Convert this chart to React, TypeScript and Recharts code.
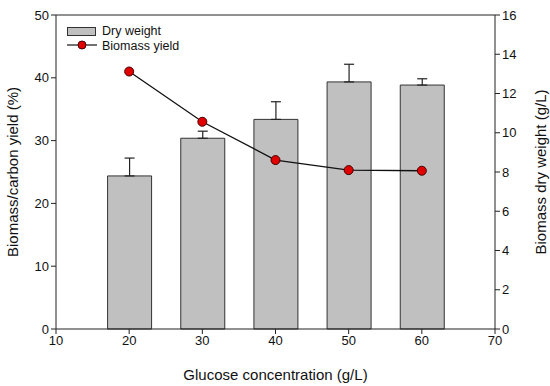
import React from 'react';
import {
  ComposedChart,
  Bar,
  Line,
  XAxis,
  YAxis,
  ErrorBar,
  ReferenceLine,
} from 'recharts';

const glucose = [20, 30, 40, 50, 60];
const dryWeight = [7.8, 9.72, 10.68, 12.59, 12.43];
const dryWeightErr = [0.91, 0.36, 0.9, 0.9, 0.32];
const biomassYield = [41.0, 33.0, 26.9, 25.3, 25.2];

const xTicks = [10, 20, 30, 40, 50, 60, 70];
const leftTicks = [0, 10, 20, 30, 40, 50];
const rightTicks = [0, 2, 4, 6, 8, 10, 12, 14, 16];

const data = glucose.map((g, i) => ({
  glucose: g,
  dry: dryWeight[i],
  dryErr: [0, dryWeightErr[i]],
  yield: biomassYield[i],
}));

const FONT = '"Liberation Sans", Arial, sans-serif';
const AXIS = '#222';

// legend sits in the top-left corner of the plot, outside recharts' layout
const ChartLegend = () => (
  <svg
    width={160}
    height={34}
    style={{ position: 'absolute', left: 67, top: 24, fontFamily: FONT }}
  >
    <rect x={0.5} y={3.5} width={28} height={8} fill="#c0c0c0" stroke="#333" />
    <text x={35} y={11} fontSize={12.5} fill="#111">Dry weight</text>
    <line x1={0} y1={21} x2={30} y2={21} stroke="#111" strokeWidth={1.2} />
    <circle cx={15} cy={21} r={4} fill="#e00000" stroke="#400" />
    <text x={35} y={25.5} fontSize={12.5} fill="#111">Biomass yield</text>
  </svg>
);

export default function App() {
  return (
    <div style={{ position: 'absolute', left: 0, top: 0, width: 550, height: 386, background: '#fff' }}>
      <ComposedChart
        width={550}
        height={386}
        data={data}
        margin={{ top: 15, right: 0, left: 0, bottom: 0 }}
        style={{ fontFamily: FONT }}
      >
        <XAxis
          dataKey="glucose"
          type="number"
          domain={[10, 70]}
          ticks={xTicks}
          height={57}
          stroke={AXIS}
          tickSize={5}
          tick={{ fill: '#111', fontSize: 13 }}
          label={{ value: 'Glucose concentration (g/L)', position: 'insideBottom', offset: 6, fill: '#111', fontSize: 15 }}
        />
        <YAxis
          yAxisId="left"
          orientation="left"
          domain={[0, 50]}
          ticks={leftTicks}
          width={56}
          stroke={AXIS}
          tickSize={5}
          tick={{ fill: '#111', fontSize: 13 }}
          label={{ value: 'Biomass/carbon yield (%)', angle: -90, position: 'center', dx: -15, fill: '#111', fontSize: 15 }}
        />
        <YAxis
          yAxisId="right"
          orientation="right"
          domain={[0, 16]}
          ticks={rightTicks}
          width={55}
          stroke={AXIS}
          tickSize={5}
          tick={{ fill: '#111', fontSize: 13 }}
          label={{ value: 'Biomass dry weight (g/L)', angle: -90, position: 'center', dx: 18, fill: '#111', fontSize: 15 }}
        />
        <ReferenceLine yAxisId="left" y={50} stroke={AXIS} />
        <Bar
          yAxisId="right"
          dataKey="dry"
          name="Dry weight"
          barSize={44}
          fill="#c0c0c0"
          stroke="#333"
          strokeWidth={1}
          isAnimationActive={false}
        >
          <ErrorBar dataKey="dryErr" width={5} stroke="#222" strokeWidth={1.2} direction="y" />
        </Bar>
        <Line
          yAxisId="left"
          dataKey="yield"
          name="Biomass yield"
          stroke="#111"
          strokeWidth={1.3}
          dot={{ r: 4.5, fill: '#e00000', stroke: '#400', strokeWidth: 1 }}
          isAnimationActive={false}
        />
      </ComposedChart>
      <ChartLegend />
    </div>
  );
}
